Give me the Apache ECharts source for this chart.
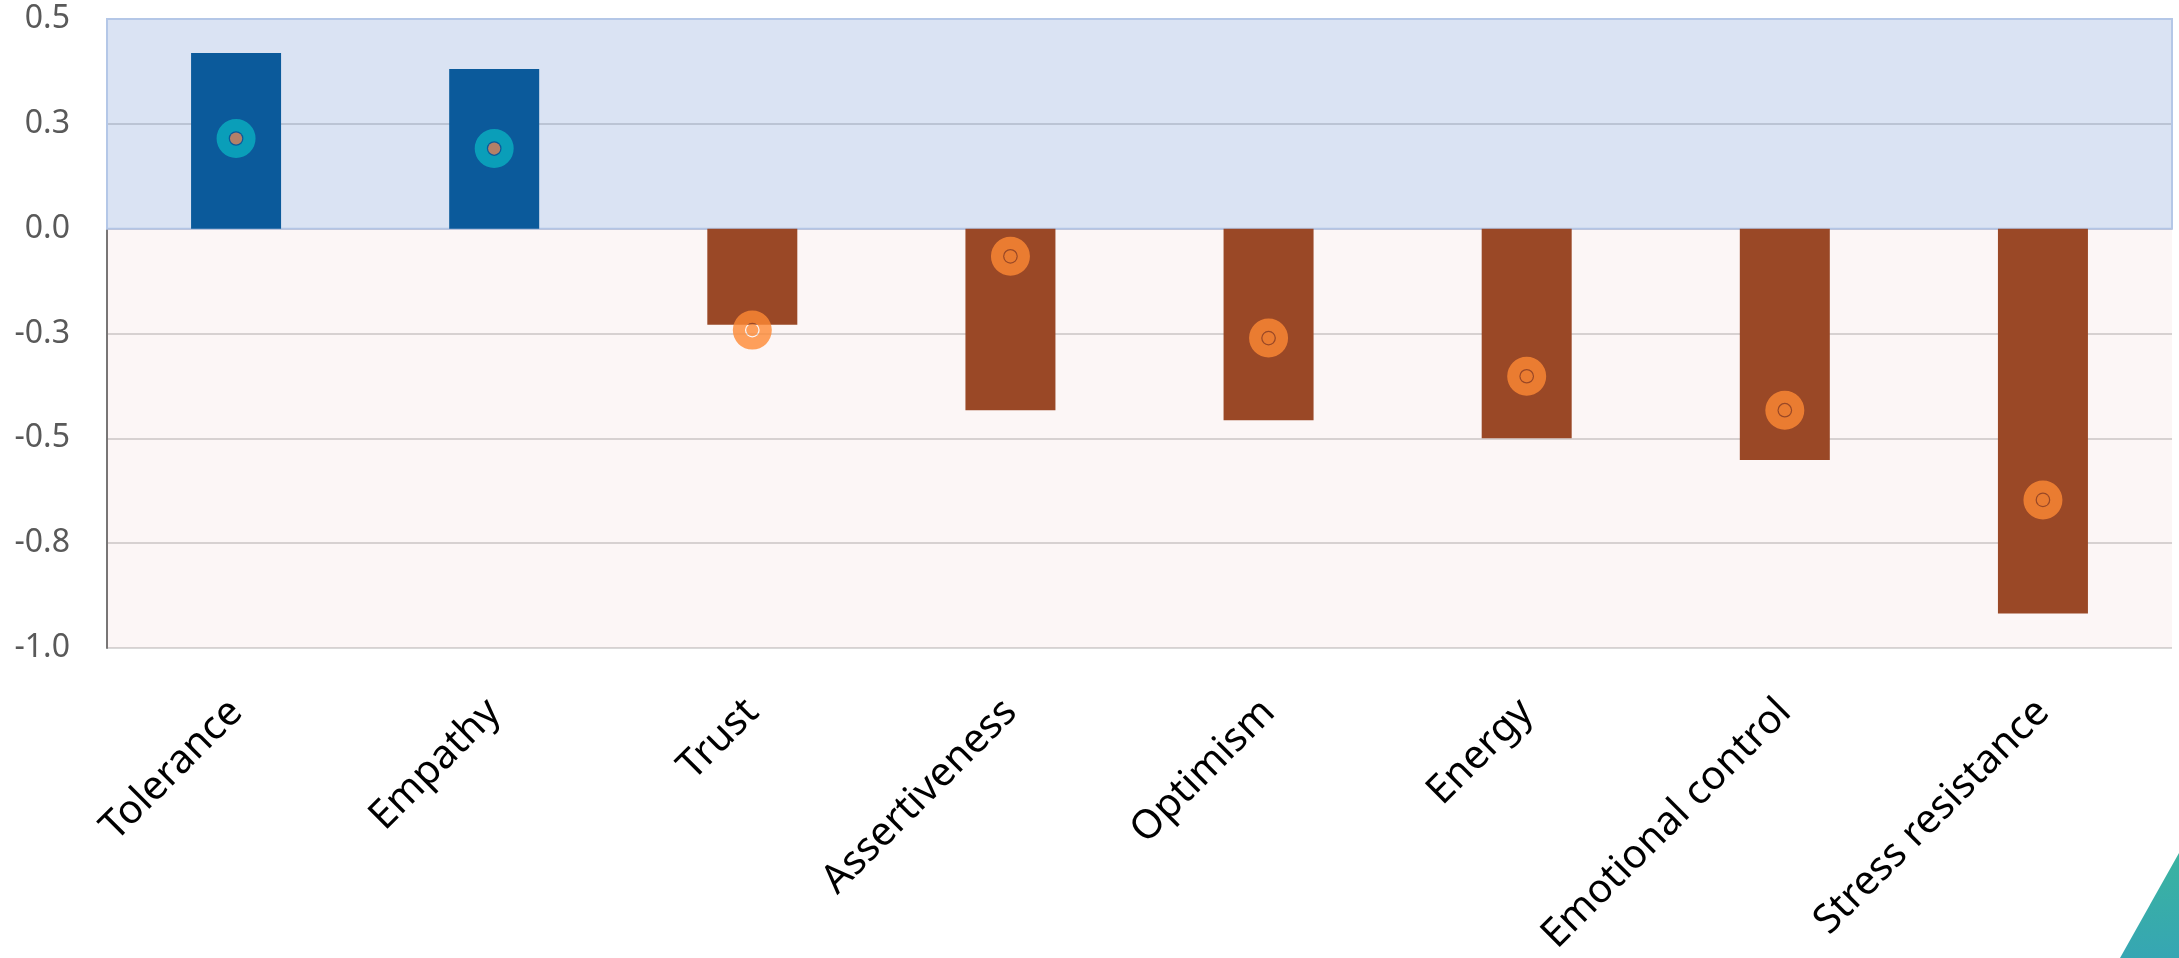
<!DOCTYPE html>
<html>
<head>
<meta charset="utf-8">
<script src="https://cdn.jsdelivr.net/npm/echarts@6/dist/echarts.min.js"></script>
<style>
  html, body { margin: 0; padding: 0; background: #fff; }
  #chart { width: 2179px; height: 958px; }
</style>
</head>
<body>
<div id="chart"></div>
<script>
const categories = ['Tolerance', 'Empathy', 'Trust', 'Assertiveness', 'Optimism', 'Energy', 'Emotional control', 'Stress resistance'];
const barValues = [0.419, 0.381, -0.229, -0.433, -0.457, -0.5, -0.552, -0.918];
const markerValues = [0.215, 0.191, -0.242, -0.066, -0.261, -0.352, -0.433, -0.647];
const yTickLabels = ['-1.0', '-0.8', '-0.5', '-0.3', '0.0', '0.3', '0.5'];
const yMin = -1, yMax = 0.5, yStep = 0.25;

// outer disc with a thin ring cut out (shows whatever is behind, like the original)
const ringSymbol = 'path://M0 39A39 39 0 1 1 78 39A39 39 0 1 1 0 39Z' +
  'M24.3 39A14.7 14.7 0 1 0 53.7 39A14.7 14.7 0 1 0 24.3 39Z';

const chart = echarts.init(document.getElementById('chart'), null, { renderer: 'canvas' });

const option = {
  animation: false,
  backgroundColor: '#fff',
  textStyle: { fontFamily: 'Noto Sans' },
  grid: { left: 107, right: 7, top: 19, bottom: 309, containLabel: false },
  xAxis: {
    type: 'category',
    data: categories,
    axisLine: { show: false },
    axisTick: { show: false },
    axisLabel: { interval: 0, rotate: 45, margin: 58, fontSize: 40, color: '#000', fontFamily: 'Noto Sans' }
  },
  yAxis: {
    type: 'value',
    min: yMin,
    max: yMax,
    interval: yStep,
    axisLine: { show: true, lineStyle: { color: '#777', width: 2 } },
    axisTick: { show: false },
    splitLine: { lineStyle: { color: '#d9d9d9', width: 2 } },
    axisLabel: {
      fontSize: 32, color: '#595959', margin: 37, fontFamily: 'Noto Sans',
      formatter: v => yTickLabels[Math.round((v - yMin) / yStep)]
    }
  },
  series: [
    {
      // background bands
      type: 'line',
      data: [],
      z: 1,
      silent: true,
      markArea: {
        silent: true,
        data: [
          [{ yAxis: 0, itemStyle: { color: 'rgba(68,114,196,0.2)', borderColor: '#b4c7e7', borderWidth: 2 } }, { yAxis: yMax }],
          [{ yAxis: yMin, itemStyle: { color: 'rgba(192,80,77,0.05)' } }, { yAxis: 0 }]
        ]
      }
    },
    {
      type: 'bar',
      z: 2,
      barWidth: 90,
      data: barValues.map(v => ({ value: v, itemStyle: { color: v >= 0 ? '#0b5a9b' : '#9a4826' } }))
    },
    {
      type: 'scatter',
      z: 3,
      symbol: ringSymbol,
      symbolSize: 39,
      data: markerValues.map((v, i) => ({ value: v, itemStyle: { color: barValues[i] >= 0 ? '#0aafc0' : '#fe8a35' } }))
    },
    {
      type: 'scatter',
      z: 4,
      symbol: 'circle',
      symbolSize: 12.2,
      data: markerValues.map((v, i) => ({ value: v, itemStyle: { color: barValues[i] >= 0 ? '#dd8a5b' : '#fe8a35' } }))
    }
  ],
  graphic: [
    {
      type: 'polygon',
      z: 100,
      shape: { points: [[2120, 958], [2179, 853], [2179, 958]] },
      style: {
        fill: new echarts.graphic.LinearGradient(0, 0, 0, 1, [
          { offset: 0, color: '#3ab3a0' },
          { offset: 1, color: '#36a6b3' }
        ])
      }
    }
  ]
};

chart.setOption(option);
</script>
</body>
</html>
